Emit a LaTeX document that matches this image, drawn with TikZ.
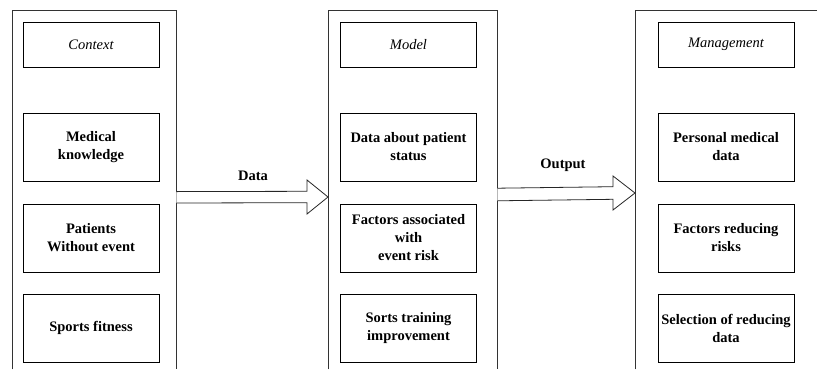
\documentclass[tikz,border=0pt]{standalone}
\usepackage{fontspec}
\setmainfont{Liberation Serif}
\usetikzlibrary{calc}
\begin{document}
\begin{tikzpicture}[x=1pt,y=-1pt,
  item/.style={draw, line width=0.8pt, minimum width=136pt, minimum height=68pt,
    align=center, inner sep=1pt, font=\fontsize{14.5}{18}\selectfont\bfseries},
  titlebox/.style={item, minimum height=45pt, font=\fontsize{14.5}{18}\selectfont\itshape},
  column/.style={minimum width=#1, minimum height=359pt, inner sep=0pt, anchor=north west},
  frame/.style={draw=black!80, line width=0.8pt},
  hollow/.style={draw=black!85, line width=0.8pt, fill=white, line join=miter},
  lbl/.style={font=\fontsize{14.5}{18}\selectfont\bfseries}]
\useasboundingbox (0,0) rectangle (817,378);

% three open-bottom columns
\node[column=164pt] (colA) at (12,10) {};
\node[column=169pt] (colB) at (328,10) {};
\node[column=190pt] (colC) at (635,10) {};
\draw[frame] (colA.south west) -- (colA.north west) -- (colA.north east) -- (colA.south east);
\draw[frame] (colB.south west) -- (colB.north west) -- (colB.north east) -- (colB.south east);
\draw[frame] (colC.south west) -- (colC.north west) -- (colC.north east);

% column A
\node[titlebox] (a0) at (91,44.5) {Context};
\node[item] (a1) at (91,147) {Medical\\knowledge};
\node[item] (a2) at (91,238) {Patients\\Without event};
\node[item] (a3) at (91,328) {Sports fitness};

% column B
\node[titlebox] (b0) at (408.5,44.5) {Model};
\node[item] (b1) at (408.5,147) {Data about patient\\status};
\node[item] (b2) at (408.5,238) {Factors associated\\with\\event risk};
\node[item] (b3) at (408.5,328) {Sorts training\\improvement};

% column C
\node[titlebox] (c0) at (726,44.5) {Management};
\node[item] (c1) at (726,147) {Personal medical\\data};
\node[item] (c2) at (726,238) {Factors reducing\\risks};
\node[item] (c3) at (726,328) {Selection of reducing\\data};

% hollow block arrows between the columns
\coordinate (d0) at ($(colA.north east)+(0,187.3)$);
\coordinate (d1) at ($(colB.north west)+(0,187)$);
\draw[hollow] ($(d0)+(0,-5.7)$) -- ($(d1)+(-21,-5.7)$) -- ($(d1)+(-21,-17)$) -- (d1)
  -- ($(d1)+(-21,17)$) -- ($(d1)+(-21,5.7)$) -- ($(d0)+(0,5.7)$);
\node[lbl] (dlabel) at (253,176) {Data};

\coordinate (o0) at ($(colB.north east)+(0,184.5)$);
\coordinate (o1) at ($(colC.north west)+(0,183)$);
\draw[hollow] ($(o0)+(0,-6.3)$) -- ($(o1)+(-22,-6.3)$) -- ($(o1)+(-22,-17)$) -- (o1)
  -- ($(o1)+(-22,17)$) -- ($(o1)+(-22,6.3)$) -- ($(o0)+(0,6.3)$);
\node[lbl] (olabel) at (563,165) {Output};
\end{tikzpicture}
\end{document}
